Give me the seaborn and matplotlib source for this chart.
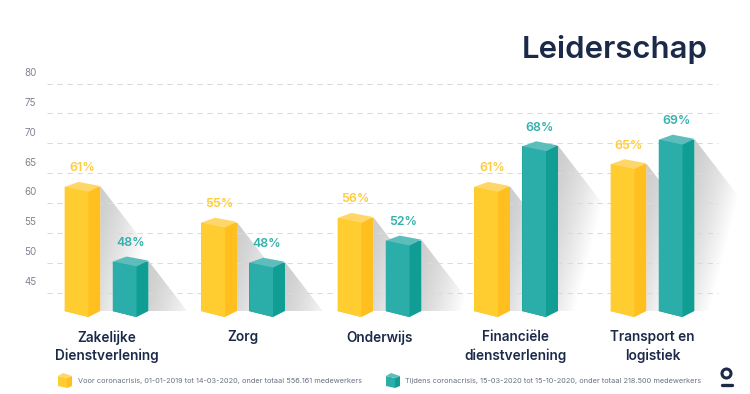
import numpy as np
import pandas as pd
import matplotlib.pyplot as plt
import seaborn as sns
from matplotlib.patches import Polygon, Circle
from matplotlib.transforms import ScaledTranslation

categorias = ['Zakelijke\nDienstverlening', 'Zorg', 'Onderwijs', 'Financiële\ndienstverlening', 'Transport en\nlogistiek']
voor_pct = [61, 55, 56, 61, 65]
tijdens_pct = [48, 48, 52, 68, 69]
# bar tops as they sit against the axis in the picture (not the same as the labels)
voor_hoogte = [62.7, 56.7, 57.5, 62.7, 66.5]
tijdens_hoogte = [50.2, 50.0, 53.7, 69.5, 70.6]
y_ticks = [45, 50, 55, 60, 65, 70, 75, 80]
voor_naam = 'Voor coronacrisis, 01-01-2019 tot 14-03-2020, onder totaal 556.161 medewerkers'
tijdens_naam = 'Tijdens coronacrisis, 15-03-2020 tot 15-10-2020, onder totaal 218.500 medewerkers'

GEEL = {'front': '#FFCD2F', 'side': '#FFBF1F', 'top': '#FFD768', 'text': '#FFCB3A'}
TEAL = {'front': '#2BADA9', 'side': '#0F9D94', 'top': '#5DBDBB', 'text': '#33B1AD'}
DONKER = '#1C2A4A'
FONT = ['Inter', 'DejaVu Sans']

W, H = 750, 394
PX_PER_UNIT = 5.97   # y axis
PX_PER_CAT = 136.5   # x axis
BASE = 41.9          # where the bars stand


def cube(ax, x, y, kleur):
    """Small cube for the legend, x,y is the top left in pixels."""
    ax.add_patch(Polygon([(x, y + 3), (x + 9, y + 5), (x + 9, y + 15), (x, y + 13)], color=kleur['front'], lw=0))
    ax.add_patch(Polygon([(x + 9, y + 5), (x + 14, y + 3), (x + 14, y + 13), (x + 9, y + 15)], color=kleur['side'], lw=0))
    ax.add_patch(Polygon([(x, y + 3), (x + 5, y), (x + 14, y + 3), (x + 9, y + 5)], color=kleur['top'], lw=0))


def schaduw(ax, x1, top):
    """Grey shadow falling to the right of a bar, fading out."""
    hoogte_px = (top - BASE) * PX_PER_UNIT
    breedte_px = hoogte_px / 1.3
    dx = np.linspace(0, breedte_px, 150)
    dy = np.linspace(0, hoogte_px, 200)
    xx, yy = np.meshgrid(dx, dy)
    t = np.clip((xx + 0.255 * yy) / 60, 0, 1)
    rgba = np.zeros(xx.shape + (4,))
    rgba[..., 3] = 0.2 * (1 - t ** 1.4)
    x2 = x1 + breedte_px / PX_PER_CAT
    img = ax.imshow(rgba, extent=(x1, x2, BASE, top), origin='upper', aspect='auto', zorder=1, interpolation='bilinear')
    img.set_clip_path(Polygon([(x1, top), (x2, BASE), (x1, BASE)], transform=ax.transData))


def grafico():
    sns.set_theme(style='white')
    plt.rcParams['font.family'] = FONT

    df = pd.DataFrame({
        'categoria': categorias * 2,
        'hoogte': voor_hoogte + tijdens_hoogte,
        'periode': ['voor'] * 5 + ['tijdens'] * 5,
    })

    fig = plt.figure(figsize=(W / 100, H / 100), dpi=100, facecolor='white')
    # axes run to the right edge so the last shadow is not cut, the grid stops earlier
    ax = fig.add_axes([46.7 / W, (H - 320) / H, (W - 46.7) / W, 270 / H])
    ax.set_facecolor('none')

    sns.barplot(data=df, x='categoria', y='hoogte', hue='periode', hue_order=['voor', 'tijdens'],
                palette=[GEEL['side'], TEAL['side']], width=0.705, gap=0.26, legend=False,
                errorbar=None, saturation=1, linewidth=0, ax=ax, zorder=3)

    xlim = ((46.7 - 106.5) / PX_PER_CAT, (W - 106.5) / PX_PER_CAT)
    ylim = (60 - (320 - 203) / PX_PER_UNIT, 60 + (203 - 50) / PX_PER_UNIT)

    labels = voor_pct + tijdens_pct
    for i, bar in enumerate(ax.patches[:10]):
        kleur = GEEL if i < 5 else TEAL
        x0, breedte, top = bar.get_x(), bar.get_width(), bar.get_height()
        x1 = x0 + breedte
        xm = x0 + breedte * 0.667
        xp = x0 + breedte * 0.39
        bar.set_y(BASE)
        bar.set_height(top - BASE)
        dip = 5 / PX_PER_UNIT
        onder = 6 / PX_PER_UNIT
        ax.add_patch(Polygon([(x0, BASE), (xm, BASE - onder), (x1, BASE), (x1, top), (xm, top)],
                             color=kleur['side'], lw=0, zorder=3))
        ax.add_patch(Polygon([(x0, top), (xm, top - dip), (xm, BASE - onder), (x0, BASE)],
                             color=kleur['front'], lw=0, zorder=4))
        ax.add_patch(Polygon([(x0, top), (xp, top + dip), (x1, top + 0.15), (xm, top - dip)],
                             color=kleur['top'], lw=0, zorder=4))
        schaduw(ax, x1, top + 0.15)
        ax.annotate(f'{labels[i]}%', (x0 + breedte / 2, top), xytext=(0, 18.5 * 0.72), textcoords='offset points',
                    ha='center', va='center', color=kleur['text'], fontsize=8.9, fontweight='semibold', zorder=5)

    ax.set_xlim(xlim)
    ax.set_ylim(ylim)
    ax.set_xlabel('')
    ax.set_ylabel('')
    ax.set_yticks(y_ticks)
    ax.set_yticklabels([str(t) for t in y_ticks])
    ax.hlines(y_ticks, xlim[0], (718 - 106.5) / PX_PER_CAT, color='#DADADA', lw=0.75,
              linestyles=[(0, (5.1, 4.5))], zorder=2)
    sns.despine(ax=ax, left=True, bottom=True)
    ax.tick_params(axis='y', length=0, pad=7.5, labelsize=7, labelcolor='#7D8492')
    ax.tick_params(axis='x', length=0, pad=7.5, labelsize=9.8, labelcolor=DONKER)
    for lab in ax.get_xticklabels():
        lab.set_fontweight('semibold')
        lab.set_linespacing(1.35)
    # y labels sit above their gridline
    subir = ScaledTranslation(0, 11.5 / 100, fig.dpi_scale_trans)
    for lab in ax.get_yticklabels():
        lab.set_transform(lab.get_transform() + subir)

    fig.text(522 / W, 1 - 58.5 / H, 'Leiderschap', fontsize=22.4, fontweight='semibold', color=DONKER, ha='left', va='baseline')

    # legend and logo on an overlay in pixels
    ov = fig.add_axes([0, 0, 1, 1], zorder=-1)
    ov.set_xlim(0, W)
    ov.set_ylim(H, 0)
    ov.axis('off')
    cube(ov, 58, 373, GEEL)
    cube(ov, 386, 373, TEAL)
    ov.text(77.5, 381, voor_naam, fontsize=5.3, color='#6A7180', va='center')
    ov.text(405, 381, tijdens_naam, fontsize=5.3, color='#6A7180', va='center')
    ov.add_patch(Circle((726.5, 373.5), 4.5, fill=False, ec=DONKER, lw=2.2))
    ov.plot([721.5, 731.5], [384.5, 384.5], color=DONKER, lw=2.4, solid_capstyle='round')

    fig.savefig('out.png', dpi=100)
    plt.close(fig)


grafico()
